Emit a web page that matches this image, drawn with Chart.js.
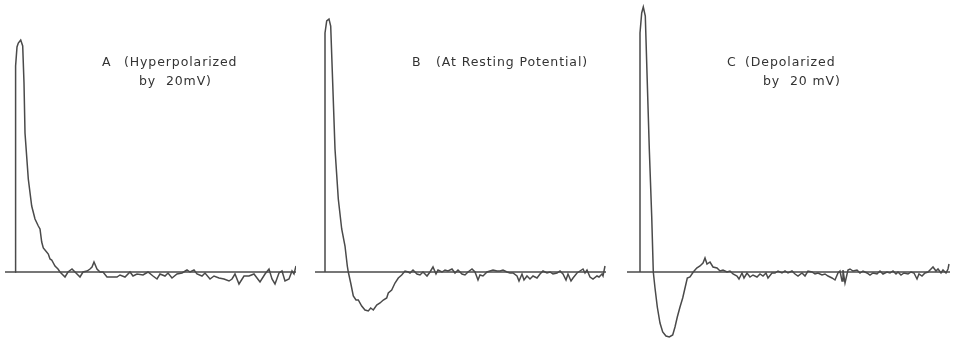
<!DOCTYPE html>
<html>
<head>
<meta charset="utf-8">
<script src="https://cdn.jsdelivr.net/npm/chart.js@4"></script>
<style>
  body { margin: 0; background: #fff; }
  #wrap { position: relative; width: 953px; height: 342px; overflow: hidden; background: #fff; }
  canvas { position: absolute; top: 0; }
  .lbl {
    position: absolute;
    font-family: "DejaVu Sans", sans-serif;
    font-size: 12.5px;
    line-height: 12px;
    letter-spacing: 0.9px;
    color: #333;
    white-space: pre;
  }
</style>
</head>
<body>
<div id="wrap">
  <canvas id="chartA" width="291" height="342" style="left:5px"></canvas>
  <canvas id="chartB" width="291" height="342" style="left:315px"></canvas>
  <canvas id="chartC" width="323" height="342" style="left:627px"></canvas>

  <div class="lbl" style="left:102px; top:56px">A</div>
  <div class="lbl" style="left:124px; top:56px">(Hyperpolarized</div>
  <div class="lbl" style="left:139px; top:75px">by  20mV)</div>

  <div class="lbl" style="left:412px; top:56px">B</div>
  <div class="lbl" style="left:436px; top:56px">(At Resting Potential)</div>

  <div class="lbl" style="left:727px; top:56px">C</div>
  <div class="lbl" style="left:745px; top:56px">(Depolarized</div>
  <div class="lbl" style="left:763px; top:75px">by  20 mV)</div>
</div>

<script>
// sweep length of each record (time units)
const spanA = 291;
const spanB = 291;
const spanC = 323;

// A: hyperpolarized by 20 mV
const tA = [10, 10.5, 10.7, 12, 13.3, 15.7, 17.7, 19, 20, 23.3,
            26.7, 30, 33.3, 35, 36.7, 38.3, 40, 43.3, 45, 46.7,
            50, 53, 55, 60, 63, 67, 70, 75, 78, 82,
            85, 87, 89, 92, 95, 98, 102, 107, 112, 115,
            120, 125, 128, 132, 138, 143, 148, 152, 155, 160,
            163, 167, 172, 177, 182, 185, 189, 192, 197, 200,
            205, 209, 214, 219, 224, 227, 230, 234, 239, 244,
            249, 252, 255, 260, 264, 267, 270, 274, 277, 280,
            284, 287, 289, 291];
const vA = [0, 150, 206, 225, 229, 232, 226, 189, 139, 93,
            66, 53, 46, 43, 30, 24, 22, 18, 13, 12,
            6, 3, 0, -5, 0, 3, 0, -5, 0, 1,
            3, 5, 10, 3, 0, 0, -5, -5, -5, -3,
            -5, 0, -4, -2, -3, 0, -4, -7, -2, -4,
            -1, -6, -2, -1, 2, 0, 2, -2, -4, -1,
            -7, -4, -6, -7, -9, -7, -2, -12, -4, -4,
            -2, -6, -10, -2, 3, -7, -12, -1, 1, -9,
            -7, 1, -2, 6];

// B: at resting potential
const tB = [10, 10, 11.7, 14, 15.7, 17.7, 20, 23.3, 26.7, 30,
            32.3, 33.3, 35.7, 38.3, 41, 43.3, 46.7, 50, 53.3, 55.7,
            58.3, 61.7, 65, 68.3, 71.7, 73.3, 76.7, 80, 83.3, 86.7,
            90, 93.3, 95, 98, 102, 105, 108, 112, 115, 118,
            121, 123, 127, 130, 133, 137, 140, 143, 147, 150,
            153, 157, 160, 163, 165, 168, 172, 175, 178, 182,
            185, 188, 192, 195, 198, 202, 204, 207, 209, 212,
            215, 218, 222, 225, 228, 232, 235, 238, 242, 245,
            248, 251, 253, 256, 258, 262, 265, 268, 270, 272,
            275, 278, 282, 284, 287, 288, 290];
const vB = [0, 239, 251, 253, 246, 189, 123, 73, 43, 26,
            6, 0, -11, -24, -28, -28, -34, -38, -39, -36,
            -38, -33, -31, -28, -26, -21, -18, -11, -6, -3,
            1, 0, -1, 2, -2, -3, 0, -4, 0, 5,
            -2, 2, 0, 2, 1, 3, -1, 2, -2, -3,
            0, 3, 0, -8, -3, -4, 0, 1, 2, 1,
            1, 2, 0, -1, -1, -4, -9, -2, -8, -4,
            -7, -4, -6, -2, 1, -1, 0, -2, -1, 1,
            -2, -8, -2, -9, -6, -1, 1, 3, -1, 2,
            -5, -7, -4, -5, -2, -4, 6];

// C: depolarized by 20 mV
const tC = [13, 13, 14.7, 16.3, 18.3, 20.3, 22.3, 24.7, 26.3, 28,
            30.3, 33, 35.7, 39, 42.3, 45.7, 48, 50.3, 53, 55.7,
            58, 60.3, 63, 66.3, 69.7, 73, 76, 78, 80, 83,
            86, 90, 93, 96, 100, 103, 106, 110, 112, 115,
            117, 120, 123, 126, 130, 133, 136, 139, 141, 145,
            148, 151, 155, 158, 161, 165, 168, 171, 175, 178,
            181, 185, 188, 191, 195, 198, 201, 205, 208, 211,
            213, 215, 216, 218, 221, 223, 226, 230, 233, 236,
            240, 243, 246, 250, 253, 256, 260, 263, 266, 269,
            271, 274, 277, 281, 284, 287, 290, 292, 295, 298,
            301, 304, 306, 309, 311, 314, 316, 319, 321, 322];
const vC = [0, 239, 259, 265, 256, 189, 123, 56, 0, -16,
            -35, -51, -60, -64, -65, -63, -55, -45, -35, -26,
            -16, -6, -5, 0, 4, 6, 9, 14, 8, 10,
            5, 4, 1, 2, 0, 1, -2, -4, -7, -1,
            -6, -1, -5, -3, -5, -2, -4, -1, -6, -1,
            -1, 1, -1, 1, -1, 1, -2, -4, -1, -4,
            1, 0, -2, -1, -3, -2, -4, -6, -8, -1,
            1, -9, 2, -11, 2, 3, 1, 2, -1, 1,
            -1, -3, -1, -2, 1, -2, 0, -1, 1, -2,
            0, -3, -1, -2, 0, -1, -7, -2, -4, -1,
            0, 3, 5, 1, 3, -1, 2, -1, 3, 8];

const ink = '#4a4a4a';

function makeTrace(id, times, volts, span) {
    const points = times.map((t, i) => ({ x: t, y: volts[i] }));
    return new Chart(document.getElementById(id), {
        type: 'line',
        data: {
            datasets: [{
                // zero line for the whole sweep
                data: [{ x: 0, y: 0 }, { x: span, y: 0 }],
                borderColor: ink,
                borderWidth: 1.3,
                pointRadius: 0
            }, {
                data: points,
                borderColor: ink,
                borderWidth: 1.5,
                pointRadius: 0,
                tension: 0
            }]
        },
        options: {
            responsive: false,
            animation: false,
            events: [],
            layout: { padding: 0 },
            plugins: { legend: { display: false }, tooltip: { enabled: false } },
            scales: {
                x: { type: 'linear', min: 0, max: span, display: false },
                y: { min: -70, max: 272, display: false }
            }
        }
    });
}

makeTrace('chartA', tA, vA, spanA);
makeTrace('chartB', tB, vB, spanB);
makeTrace('chartC', tC, vC, spanC);
</script>
</body>
</html>
